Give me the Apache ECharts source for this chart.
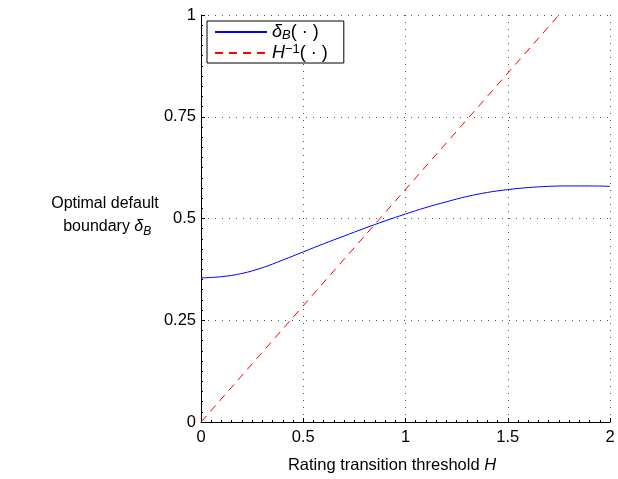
<!DOCTYPE html>
<html><head><meta charset="utf-8">
<script src="https://cdn.jsdelivr.net/npm/echarts@6/dist/echarts.min.js"></script>
<style>html,body{margin:0;padding:0;background:#fff}#c{width:618px;height:479px}</style>
</head><body><div id="c"></div>
<script>
const hValues = [0,0.1,0.2,0.3,0.4,0.5,0.6,0.7,0.8,0.9,1.0,1.1,1.2,1.3,1.4,1.5,1.6,1.7,1.8,1.9,2.0];
const deltaB  = [0.354,0.357,0.365,0.379,0.398,0.418,0.438,0.457,0.476,0.494,0.511,0.527,0.541,0.554,0.564,0.571,0.576,0.579,0.580,0.580,0.579];
const invH_x = [0, 1.75];
const invH_y = [0, 1];
const xTicks = [0, 0.5, 1, 1.5, 2];
const yTicks = [0, 0.25, 0.5, 0.75, 1];

const FONT = 'Liberation Sans, Arial, sans-serif';
const chart = echarts.init(document.getElementById('c'));
const gridLine = {show:true, lineStyle:{color:'#555', type:[1,6], width:1}};
chart.setOption({
  animation:false,
  textStyle:{fontFamily:FONT},
  grid:{left:201, top:15, right:8, bottom:55, containLabel:false},
  legend:{
    left:207, top:21, orient:'vertical', itemWidth:52, itemHeight:14, itemGap:1,
    padding:[2,16,1,7],
    borderColor:'#000', borderWidth:1, backgroundColor:'#fff',
    itemStyle:{opacity:0},
    data:['delta','inv'],
    formatter:function(n){ return n==='delta' ? '{i|δ}{s|B}{n|( · )}' : '{i|H}{p|−1}{n|( · )}'; },
    textStyle:{fontFamily:FONT, fontSize:18, color:'#000', padding:[0,0,0,0],
      rich:{
        i:{fontStyle:'italic', fontSize:18, fontFamily:FONT, lineHeight:20},
        s:{fontStyle:'italic', fontSize:13, fontFamily:FONT, lineHeight:12, verticalAlign:'bottom'},
        p:{fontSize:13, fontFamily:FONT, lineHeight:11, verticalAlign:'top'},
        n:{fontSize:18, fontFamily:FONT, lineHeight:20}
      }}
  },
  xAxis:{
    type:'value', min:0, max:2, interval:0.5,
    axisLine:{show:true, onZero:false, lineStyle:{color:'#000', width:1}},
    axisTick:{show:true, inside:true, length:4, lineStyle:{color:'#000'}},
    minorTick:{show:true, splitNumber:10, length:2, lineStyle:{color:'#000'}},
    axisLabel:{color:'#000', fontSize:16.5, margin:7, fontFamily:FONT,
      formatter:function(v){return xTicks.indexOf(v)>=0 ? String(v) : '';}},
    splitLine:gridLine,
    name:'Rating transition threshold {i|H}', nameLocation:'middle', nameGap:35,
    nameTextStyle:{color:'#000', fontSize:16.5, fontFamily:FONT, padding:[0,27,0,0],
      rich:{i:{fontStyle:'italic', fontSize:16.5, fontFamily:FONT}}}
  },
  yAxis:{
    type:'value', min:0, max:1, interval:0.25,
    axisLine:{show:true, onZero:false, lineStyle:{color:'#000', width:1}},
    axisTick:{show:true, inside:true, length:4, lineStyle:{color:'#000'}},
    minorTick:{show:true, splitNumber:10, length:2, lineStyle:{color:'#000'}},
    axisLabel:{color:'#000', fontSize:16.5, margin:5, fontFamily:FONT,
      formatter:function(v){return yTicks.indexOf(v)>=0 ? String(v) : '';}},
    splitLine:gridLine
  },
  graphic:[{
    type:'text', x:105, y:192,
    style:{
      text:'Optimal default\n boundary {i|δ}{s|B}',
      fill:'#000', font:'16px '+FONT, align:'center', lineHeight:23,
      rich:{i:{fontStyle:'italic', fontSize:16, fontFamily:FONT, lineHeight:23}, s:{fontStyle:'italic', fontSize:12, fontFamily:FONT, lineHeight:14, verticalAlign:'bottom'}}
    }
  }],
  series:[
    {name:'delta', type:'line', showSymbol:false, symbol:'none', smooth:0.4,
     lineStyle:{color:'#0000ff', width:1}, itemStyle:{color:'#0000ff'},
     data:hValues.map((h,i)=>[h, deltaB[i]])},
    {name:'inv', type:'line', showSymbol:false, symbol:'none',
     lineStyle:{color:'#ff0000', width:1, type:[8,6]}, itemStyle:{color:'#ff0000'},
     data:invH_x.map((h,i)=>[h, invH_y[i]])}
  ]
});
</script></body></html>
